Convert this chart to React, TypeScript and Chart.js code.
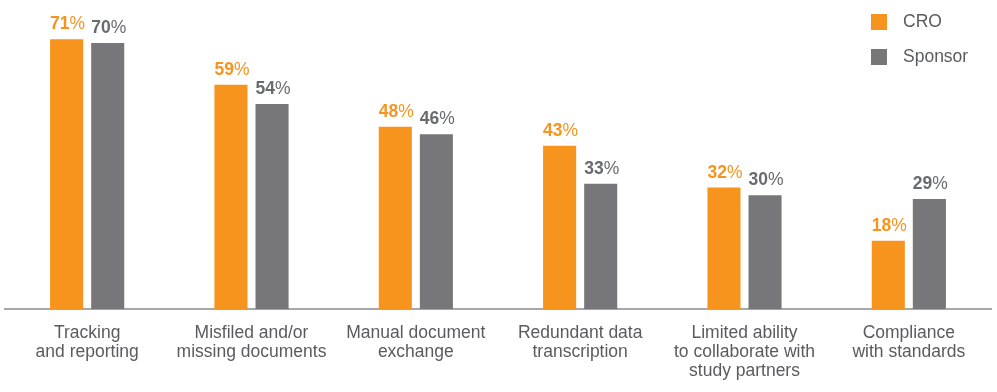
import React, { useEffect, useRef } from "react";
import { Chart, registerables } from "chart.js";

Chart.register(...registerables);

const categories: string[][] = [
  ["Tracking", "and reporting"],
  ["Misfiled and/or", "missing documents"],
  ["Manual document", "exchange"],
  ["Redundant data", "transcription"],
  ["Limited ability", "to collaborate with", "study partners"],
  ["Compliance", "with standards"],
];
const croValues = [71, 59, 48, 43, 32, 18];
const sponsorValues = [70, 54, 46, 33, 30, 29];
const seriesNames = ["CRO", "Sponsor"];
const ORANGE = "#F7941D";
const GREY = "#77777B";
const TEXT = "#5A5B5E";
const FONT = "'Liberation Sans', Arial, Helvetica, sans-serif";

const labelPlugin = {
  id: "valueLabels",
  afterDatasetsDraw(chart: any) {
    const ctx = chart.ctx;
    ctx.save();
    chart.data.datasets.forEach((ds: any, di: number) => {
      const meta = chart.getDatasetMeta(di);
      meta.data.forEach((el: any, i: number) => {
        const num = String(ds.data[i]);
        ctx.font = `bold 17.5px ${FONT}`;
        const w1 = ctx.measureText(num).width;
        ctx.font = `17.5px ${FONT}`;
        const w2 = ctx.measureText("%").width;
        const start = el.x - (w1 + w2) / 2 + 1;
        const y = el.y - 10;
        ctx.fillStyle = di === 0 ? ORANGE : "#6A6B6E";
        ctx.textBaseline = "alphabetic";
        ctx.textAlign = "left";
        ctx.font = `bold 17.5px ${FONT}`;
        ctx.fillText(num, start, y);
        ctx.font = `17.5px ${FONT}`;
        ctx.fillText("%", start + w1, y);
      });
    });
    // legend
    const items = [
      { name: seriesNames[0], color: ORANGE, y: 14 },
      { name: seriesNames[1], color: GREY, y: 49 },
    ];
    items.forEach((it) => {
      ctx.fillStyle = it.color;
      ctx.fillRect(871, it.y, 16, 16);
      ctx.fillStyle = TEXT;
      ctx.font = `17.5px ${FONT}`;
      ctx.textBaseline = "middle";
      ctx.textAlign = "left";
      ctx.fillText(it.name, 903, it.y + 8.5);
    });
    ctx.restore();
  },
};

export default function App() {
  const ref = useRef<HTMLCanvasElement | null>(null);
  useEffect(() => {
    document.body.style.margin = "0";
    const chart = new Chart(ref.current as HTMLCanvasElement, {
      type: "bar",
      data: {
        labels: categories,
        datasets: [
          { label: seriesNames[0], data: croValues, backgroundColor: ORANGE },
          { label: seriesNames[1], data: sponsorValues, backgroundColor: GREY },
        ],
      },
      options: {
        animation: false,
        responsive: false,
        maintainAspectRatio: false,
        layout: { padding: { left: 5, right: 6, top: 5, bottom: 2 } },
        datasets: {
          bar: { categoryPercentage: 0.5, barPercentage: 0.805 },
        },
        plugins: { legend: { display: false }, tooltip: { enabled: false } },
        scales: {
          x: {
            grid: { display: false, drawTicks: false },
            border: { display: true, color: "#A7A8AA", width: 2 },
            ticks: {
              color: TEXT,
              font: { family: FONT, size: 17.5, lineHeight: 1.1 },
              padding: 14,
              maxRotation: 0,
              autoSkip: false,
            },
          },
          y: { display: false, min: 0, max: 80 },
        },
      },
      plugins: [labelPlugin],
    });
    return () => chart.destroy();
  }, []);
  return (
    <div style={{ width: 997, height: 392, background: "#fff", overflow: "hidden" }}>
      <canvas ref={ref} width={997} height={397} />
    </div>
  );
}
